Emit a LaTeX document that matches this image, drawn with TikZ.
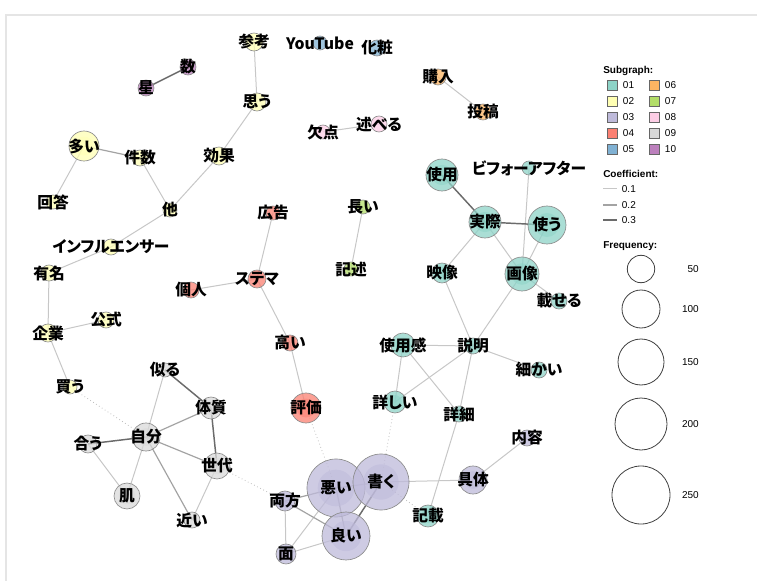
\documentclass[tikz,border=0pt]{standalone}
\usepackage{fontspec}
\newfontfamily\jpfont{Noto Sans CJK JP}[RawFeature=+palt]
\newfontfamily\legendfont{Liberation Sans}
\usetikzlibrary{backgrounds}

% subgraph colours
\definecolor{sub01}{HTML}{8DD3C7}
\definecolor{sub02}{HTML}{FFFFB3}
\definecolor{sub03}{HTML}{BEBADA}
\definecolor{sub04}{HTML}{FB8072}
\definecolor{sub05}{HTML}{80B1D3}
\definecolor{sub06}{HTML}{FDB462}
\definecolor{sub07}{HTML}{B3DE69}
\definecolor{sub08}{HTML}{FCCDE5}
\definecolor{sub09}{HTML}{D9D9D9}
\definecolor{sub10}{HTML}{BC80BD}

\tikzset{
  word/.style={circle, draw=black!45, line width=0.5pt, inner sep=0pt, fill opacity=0.75},
  wordcore/.style={circle, draw=none, inner sep=0pt, fill opacity=0.55},
  wordlabel/.style={font=\jpfont\bfseries\fontsize{11.8}{12}\selectfont, inner sep=0pt},
  coef1/.style={draw=black!22, line width=0.75pt},
  coef2/.style={draw=black!36, line width=0.9pt},
  coef3/.style={draw=black!58, line width=1.1pt},
  weak/.style={draw=black!25, dotted, line width=0.6pt},
  legendtext/.style={font=\legendfont\fontsize{7.5}{8}\selectfont, inner sep=0pt},
  legendhead/.style={font=\legendfont\bfseries\fontsize{7.5}{8}\selectfont, inner sep=0pt, anchor=west},
}

\begin{document}
\begin{tikzpicture}[x=0.75pt, y=-0.75pt]
\useasboundingbox (0,0) rectangle (757,581);
\draw[black!10, line width=1.2pt] (6,585) -- (6,15) -- (760,15);

% words
\foreach \id/\x/\y/\r/\sg/\txt in {
  shiyou/442/175/16/01/使用, before/529/168/7/01/ビフォーアフター,
  jissai/485/222/16/01/実際, tsukau/547/225/19/01/使う,
  eizou/442/273/10/01/映像, gazou/522/274/17/01/画像,
  noseru/559/301/8/01/載せる, shiyoukan/403/345/12/01/使用感,
  setsumei/473/346/8/01/説明, komakai/539/370/8/01/細かい,
  kuwashii/395/402/11/01/詳しい, shousai/459/414/8/01/詳細,
  kisai/428/516/11/01/記載,
  sankou/254/42/9/02/参考, omou/257/102/9/02/思う,
  ooi/84/146/15/02/多い, kensuu/140/158/8/02/件数,
  kouka/219/156/9/02/効果, kaitou/53/202/7/02/回答,
  hoka/170/210/7/02/他, influencer/111/247/8/02/インフルエンサー,
  yuumei/49/273/8/02/有名, koushiki/106/320/8/02/公式,
  kigyou/48/333/9/02/企業, kau/70/387/7/02/買う,
  warui/336/488/29/03/悪い, kaku/381/482/28/03/書く,
  yoi/346/536/24/03/良い, ryouhou/285/501/10/03/両方,
  men/286/554/10/03/面, gutai/473/480/14/03/具体,
  naiyou/527/438/8/03/内容,
  koukoku/273/213/7/04/広告, stema/257/279/9/04/ステマ,
  kojin/191/290/8/04/個人, takai/290/343/8/04/高い,
  hyouka/306/408/15/04/評価,
  youtube/320/43/7/05/YouTube, keshou/377/48/8/05/化粧,
  kounyuu/438/77/8/06/購入, toukou/483/112/8/06/投稿,
  nagai/363/207/7/07/長い, kijutsu/351/269/7/07/記述,
  ketten/323/132/7/08/欠点, noberu/379/124/8/08/述べる,
  niru/165/370/7/09/似る, taishitsu/211/408/11/09/体質,
  jibun/146/437/14/09/自分, au/88/444/9/09/合う,
  sedai/217/466/13/09/世代, hada/127/496/13/09/肌,
  chikai/192/520/8/09/近い,
  kazu/188/67/8/10/数, hoshi/146/88/8/10/星}
{
  \node[word, minimum size={\r*1.5pt}, fill=sub\sg] (\id) at (\x,\y) {};
  \ifnum\r>9
    \node[wordcore, minimum size={\r*0.95pt}, fill=sub\sg] at (\id) {};
  \fi
  \node[wordlabel] at (\id) {\txt};
}

% co-occurrences
\begin{pgfonlayer}{background}
\foreach \a/\b in {sankou/omou, omou/kouka, kouka/hoka, kensuu/hoka, ooi/kaitou,
  hoka/influencer, influencer/yuumei, yuumei/kigyou, kigyou/koushiki, kigyou/kau,
  kounyuu/toukou, ketten/noberu, nagai/kijutsu, koukoku/stema, kojin/stema,
  stema/takai, takai/hyouka, before/gazou, tsukau/gazou, jissai/gazou,
  jissai/eizou, gazou/noseru, gazou/setsumei, eizou/setsumei, shiyoukan/setsumei,
  setsumei/komakai, setsumei/kuwashii, setsumei/shousai, shousai/kisai,
  shiyoukan/kuwashii, shiyoukan/shousai, naiyou/gutai, gutai/kaku,
  ryouhou/men, men/yoi, men/warui, au/hada, sedai/chikai, jibun/niru, jibun/hada}
  \draw[coef1] (\a.center) -- (\b.center);
\foreach \a/\b in {ooi/kensuu, jibun/taishitsu, jibun/sedai, jibun/chikai,
  warui/kaku, warui/yoi, warui/ryouhou, ryouhou/yoi}
  \draw[coef2] (\a.center) -- (\b.center);
\foreach \a/\b in {kazu/hoshi, shiyou/jissai, jissai/tsukau, taishitsu/sedai,
  jibun/au, niru/taishitsu, kaku/yoi}
  \draw[coef3] (\a.center) -- (\b.center);
\foreach \a/\b in {kau/jibun, sedai/ryouhou, hyouka/warui, kuwashii/kaku, kaku/kisai}
  \draw[weak] (\a.center) -- (\b.center);
\end{pgfonlayer}

% legend: subgraph
\node[legendhead] (subhead) at (603,71) {Subgraph:};
\foreach \k/\col/\row in {01/0/0, 02/0/1, 03/0/2, 04/0/3, 05/0/4,
                          06/1/0, 07/1/1, 08/1/2, 09/1/3, 10/1/4} {
  \node[draw=black!60, line width=0.5pt, fill=sub\k, minimum size=7.5pt, inner sep=0pt]
    (sw\k) at (612+42*\col, 85+16*\row) {};
  \node[legendtext, anchor=west] at ([xshift=4pt]sw\k.east) {\k};
}

% legend: coefficient
\node[legendhead] (coefhead) at (603,174) {Coefficient:};
\foreach \v/\y/\s in {0.1/189/coef1, 0.2/205/coef2, 0.3/220/coef3} {
  \coordinate (c\y a) at (603,\y);
  \coordinate (c\y b) at (617,\y);
  \draw[\s] (c\y a) -- (c\y b);
  \node[legendtext, anchor=west] at ([xshift=3.5pt]c\y b) {\v};
}

% legend: frequency
\node[legendhead] (freqhead) at (603,246) {Frequency:};
\foreach \f/\y/\r in {50/269/13.7, 100/309/19, 150/362/23, 200/424/26, 250/495/29} {
  \node[circle, draw=black!75, line width=0.6pt, inner sep=0pt, minimum size={\r*1.5pt}]
    (fq\f) at (641,\y) {};
  \node[legendtext, anchor=east] at (699,\y) {\f};
}
\end{tikzpicture}
\end{document}
